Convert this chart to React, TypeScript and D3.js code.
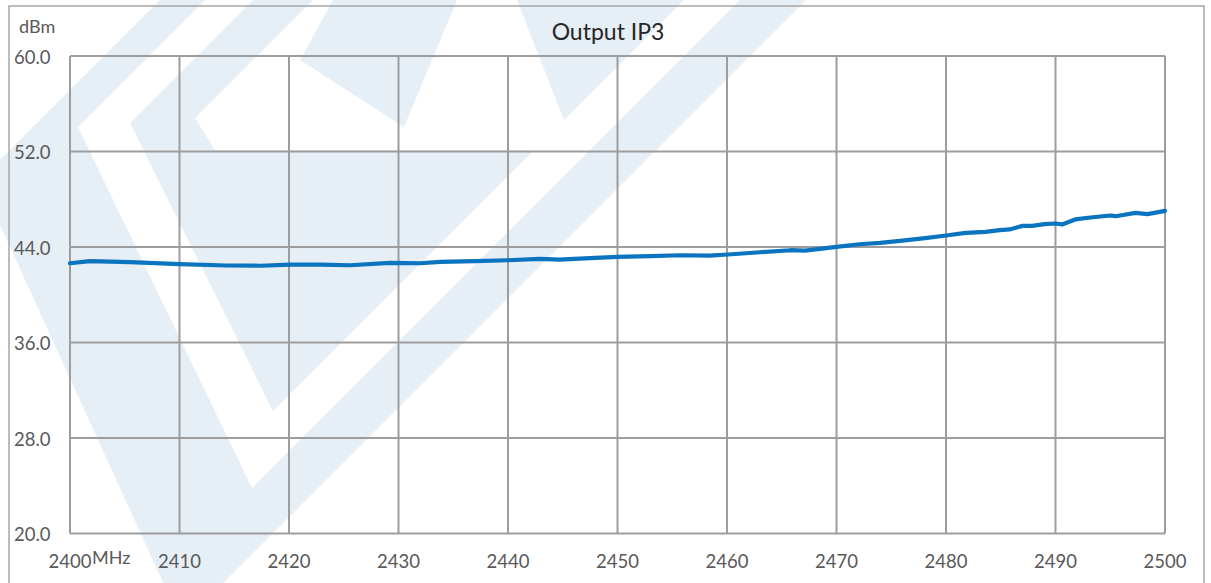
import React from "react";
import * as d3 from "d3";

const freqMHz = [2400, 2401.8, 2405.5, 2410, 2414.3, 2417.4, 2420.1, 2422.8, 2425.6, 2429.2, 2432, 2433.8, 2437, 2440, 2442.9, 2444.7, 2447.5, 2450, 2453, 2455.7, 2458.4, 2460.1, 2463, 2465.8, 2467.1, 2468.5, 2470, 2472.1, 2474, 2475.8, 2478.1, 2480, 2481.8, 2483.6, 2484.9, 2485.8, 2487, 2487.9, 2489, 2490, 2490.6, 2491.8, 2493.2, 2495, 2495.5, 2497.3, 2498.4, 2500];
const oip3dBm = [42.64, 42.81, 42.73, 42.56, 42.45, 42.43, 42.52, 42.52, 42.47, 42.67, 42.64, 42.75, 42.81, 42.89, 43.0, 42.95, 43.06, 43.17, 43.23, 43.31, 43.27, 43.37, 43.56, 43.73, 43.69, 43.84, 44.01, 44.23, 44.34, 44.51, 44.74, 44.96, 45.18, 45.27, 45.41, 45.47, 45.77, 45.77, 45.91, 45.97, 45.89, 46.31, 46.47, 46.64, 46.58, 46.86, 46.75, 47.03];
const xTicks = [2400, 2410, 2420, 2430, 2440, 2450, 2460, 2470, 2480, 2490, 2500];
const yTicks = [20, 28, 36, 44, 52, 60];
const title = "Output IP3";
const yUnit = "dBm";
const xUnit = "MHz";

// decorative background watermark (light logo shapes)
const watermark: [number, number][][] = [
  [[160, 0], [205, 0], [78, 127], [157, 291], [252, 488], [740, 0], [806, 0], [182, 624], [0, 225], [0, 160]],
  [[253, 0], [313, 0], [195, 118], [215, 150], [534, 150], [273, 411], [130, 123]],
  [[517, 0], [684, 0], [564, 120]],
  [[333, 0], [457, 0], [404, 127], [300, 60]],
];

const W = 1211;
const H = 583;
const left = 70, right = 1165, top = 56, bottom = 533.5;

export default function App() {
  const x = d3.scaleLinear().domain([2400, 2500]).range([left, right]);
  const y = d3.scaleLinear().domain([20, 60]).range([bottom, top]);
  const pts = freqMHz.map((f, i) => [f, oip3dBm[i]] as [number, number]);
  const line = d3.line<[number, number]>().x((d) => x(d[0])).y((d) => y(d[1]));
  const font = "Lato, 'Open Sans', sans-serif";
  const grid = "#9d9d9d";
  return (
    <div style={{ position: "absolute", left: 0, top: 0 }}>
      <svg width={W} height={H} style={{ display: "block" }}>
        <rect x={0} y={0} width={W} height={H} fill="#ffffff" />
        {watermark.map((p, i) => (
          <polygon key={i} points={p.map((q) => q.join(",")).join(" ")} fill="#e6eef6" />
        ))}
        <rect x={9} y={6} width={1195} height={600} fill="none" stroke="#a6a6a6" strokeWidth={1.5} />
        {yTicks.map((t) => (
          <line key={"gy" + t} x1={left} x2={right} y1={y(t)} y2={y(t)} stroke={grid} strokeWidth={2} />
        ))}
        {xTicks.map((t) => (
          <line key={"gx" + t} x1={x(t)} x2={x(t)} y1={top} y2={bottom} stroke={grid} strokeWidth={2} />
        ))}
        <path d={line(pts) || ""} fill="none" stroke="#0a74c0" strokeWidth={4.2} strokeLinejoin="round" strokeLinecap="round" />
        {yTicks.map((t) => (
          <text key={"ty" + t} x={14} y={y(t) + 7.5} fontFamily={font} fontSize={18.5} fill="#595959">
            {t.toFixed(1)}
          </text>
        ))}
        {xTicks.map((t) => (
          <text key={"tx" + t} x={x(t)} y={568} fontFamily={font} fontSize={18.5} fill="#595959" textAnchor="middle">
            {t}
          </text>
        ))}
        <text x={19} y={33} fontFamily={font} fontSize={18} fill="#595959">{yUnit}</text>
        <text x={92} y={564} fontFamily={font} fontSize={18} fill="#595959">{xUnit}</text>
        <text x={608} y={40} fontFamily={font} fontSize={23} fill="#262626" textAnchor="middle">{title}</text>
      </svg>
    </div>
  );
}
